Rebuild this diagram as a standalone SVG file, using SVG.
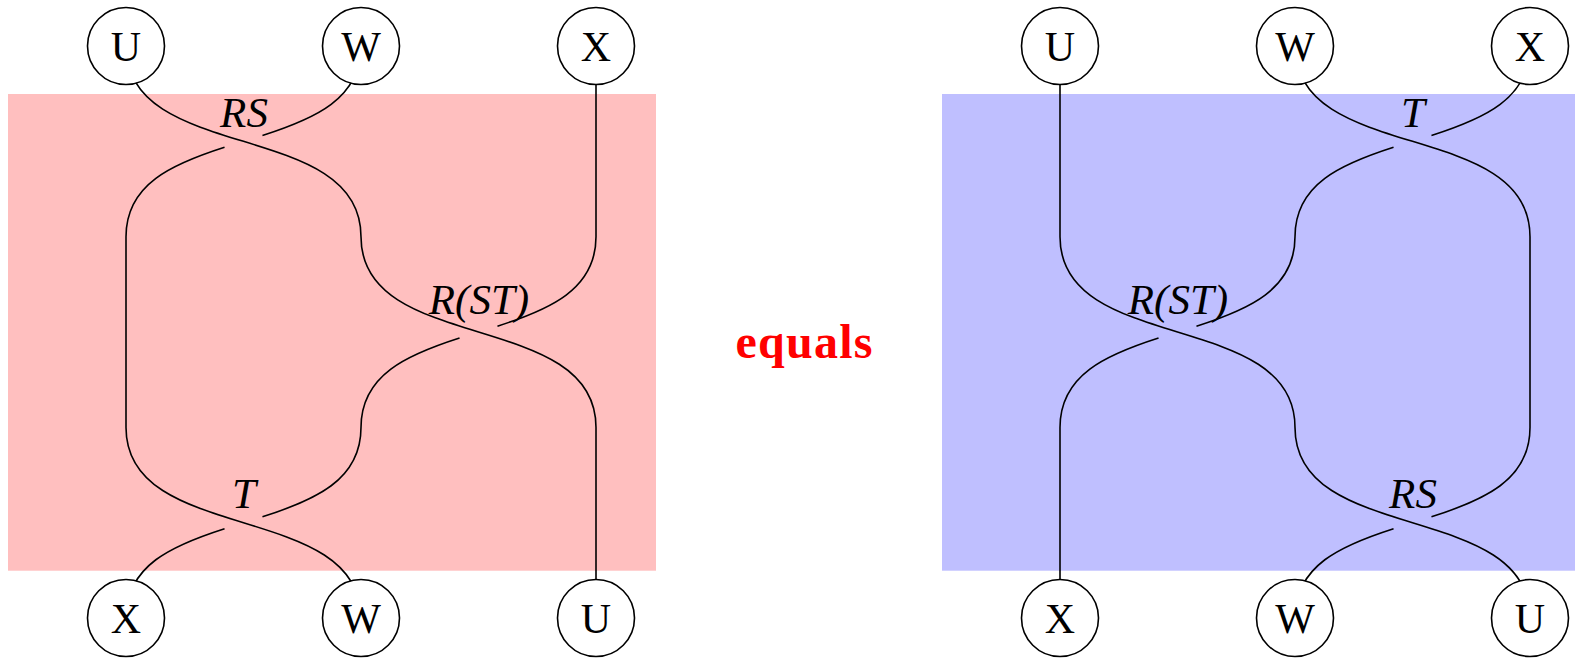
<svg xmlns="http://www.w3.org/2000/svg" width="1575" height="658" viewBox="0 0 1575 658">
<style>
.strand{fill:none;stroke:#000;stroke-width:1.6;stroke-linecap:butt}
.node circle{fill:#fff;stroke:#000;stroke-width:1.6}
.node text{font-family:"Liberation Serif",serif;font-size:42px;text-anchor:middle;fill:#000}
.lbl{font-family:"Liberation Serif",serif;font-style:italic;font-size:43px;text-anchor:middle;fill:#000}
.eq{font-family:"Liberation Serif",serif;font-weight:bold;font-size:48px;text-anchor:middle;fill:#ff0000}
</style>
<rect x="8" y="94" width="648" height="476.7" fill="#ffbfbf"/>
<rect x="942" y="94" width="633" height="476.7" fill="#bfbfff"/>
<g id="connectors">
<path class="strand" d="M126,46 c0,118.5 235,72.2 235,190.7 c0,118.5 235,72.2 235,190.7 V618.1"/>
<path class="strand" d="M361,46 c0,52.85 -46.75,72.92 -98.54,89.45"/>
<path class="strand" d="M224.54,147.25 c-51.79,16.53 -98.54,36.6 -98.54,89.45 V427.4 c0,118.5 235,72.2 235,190.7"/>
<path class="strand" d="M596,46 V236.7 c0,52.85 -46.75,72.92 -98.54,89.45"/>
<path class="strand" d="M459.54,337.95 c-51.79,16.53 -98.54,36.6 -98.54,89.45 c0,52.85 -46.75,72.92 -98.54,89.45"/>
<path class="strand" d="M224.54,528.65 c-51.79,16.53 -98.54,36.6 -98.54,89.45"/>
<path class="strand" d="M1060,46 V236.7 c0,118.5 235,72.2 235,190.7 c0,118.5 235,72.2 235,190.7"/>
<path class="strand" d="M1295,46 c0,118.5 235,72.2 235,190.7 V427.4 c0,52.85 -46.75,72.92 -98.54,89.45"/>
<path class="strand" d="M1393.54,528.65 c-51.79,16.53 -98.54,36.6 -98.54,89.45"/>
<path class="strand" d="M1530,46 c0,52.85 -46.75,72.92 -98.54,89.45"/>
<path class="strand" d="M1393.54,147.25 c-51.79,16.53 -98.54,36.6 -98.54,89.45 c0,52.85 -46.75,72.92 -98.54,89.45"/>
<path class="strand" d="M1158.54,337.95 c-51.79,16.53 -98.54,36.6 -98.54,89.45 V618.1"/>
<text class="lbl" x="244" y="127">RS</text>
<text class="lbl" x="479" y="314">R(ST)</text>
<text class="lbl" x="244" y="508">T</text>
<text class="lbl" x="1413" y="127">T</text>
<text class="lbl" x="1178" y="314">R(ST)</text>
<text class="lbl" x="1413" y="508">RS</text>
</g>
<g id="nL_U_top" class="node"><circle cx="126" cy="46" r="38.5"/><text x="126" y="61">U</text></g>
<g id="nL_W_top" class="node"><circle cx="361" cy="46" r="38.5"/><text x="361" y="61">W</text></g>
<g id="nL_X_top" class="node"><circle cx="596" cy="46" r="38.5"/><text x="596" y="61">X</text></g>
<g id="nL_X_bot" class="node"><circle cx="126" cy="618" r="38.5"/><text x="126" y="633">X</text></g>
<g id="nL_W_bot" class="node"><circle cx="361" cy="618" r="38.5"/><text x="361" y="633">W</text></g>
<g id="nL_U_bot" class="node"><circle cx="596" cy="618" r="38.5"/><text x="596" y="633">U</text></g>
<g id="nR_U_top" class="node"><circle cx="1060" cy="46" r="38.5"/><text x="1060" y="61">U</text></g>
<g id="nR_W_top" class="node"><circle cx="1295" cy="46" r="38.5"/><text x="1295" y="61">W</text></g>
<g id="nR_X_top" class="node"><circle cx="1530" cy="46" r="38.5"/><text x="1530" y="61">X</text></g>
<g id="nR_X_bot" class="node"><circle cx="1060" cy="618" r="38.5"/><text x="1060" y="633">X</text></g>
<g id="nR_W_bot" class="node"><circle cx="1295" cy="618" r="38.5"/><text x="1295" y="633">W</text></g>
<g id="nR_U_bot" class="node"><circle cx="1530" cy="618" r="38.5"/><text x="1530" y="633">U</text></g>
<g id="equals"><text class="eq" x="804" y="358" textLength="137">equals</text></g>
</svg>
